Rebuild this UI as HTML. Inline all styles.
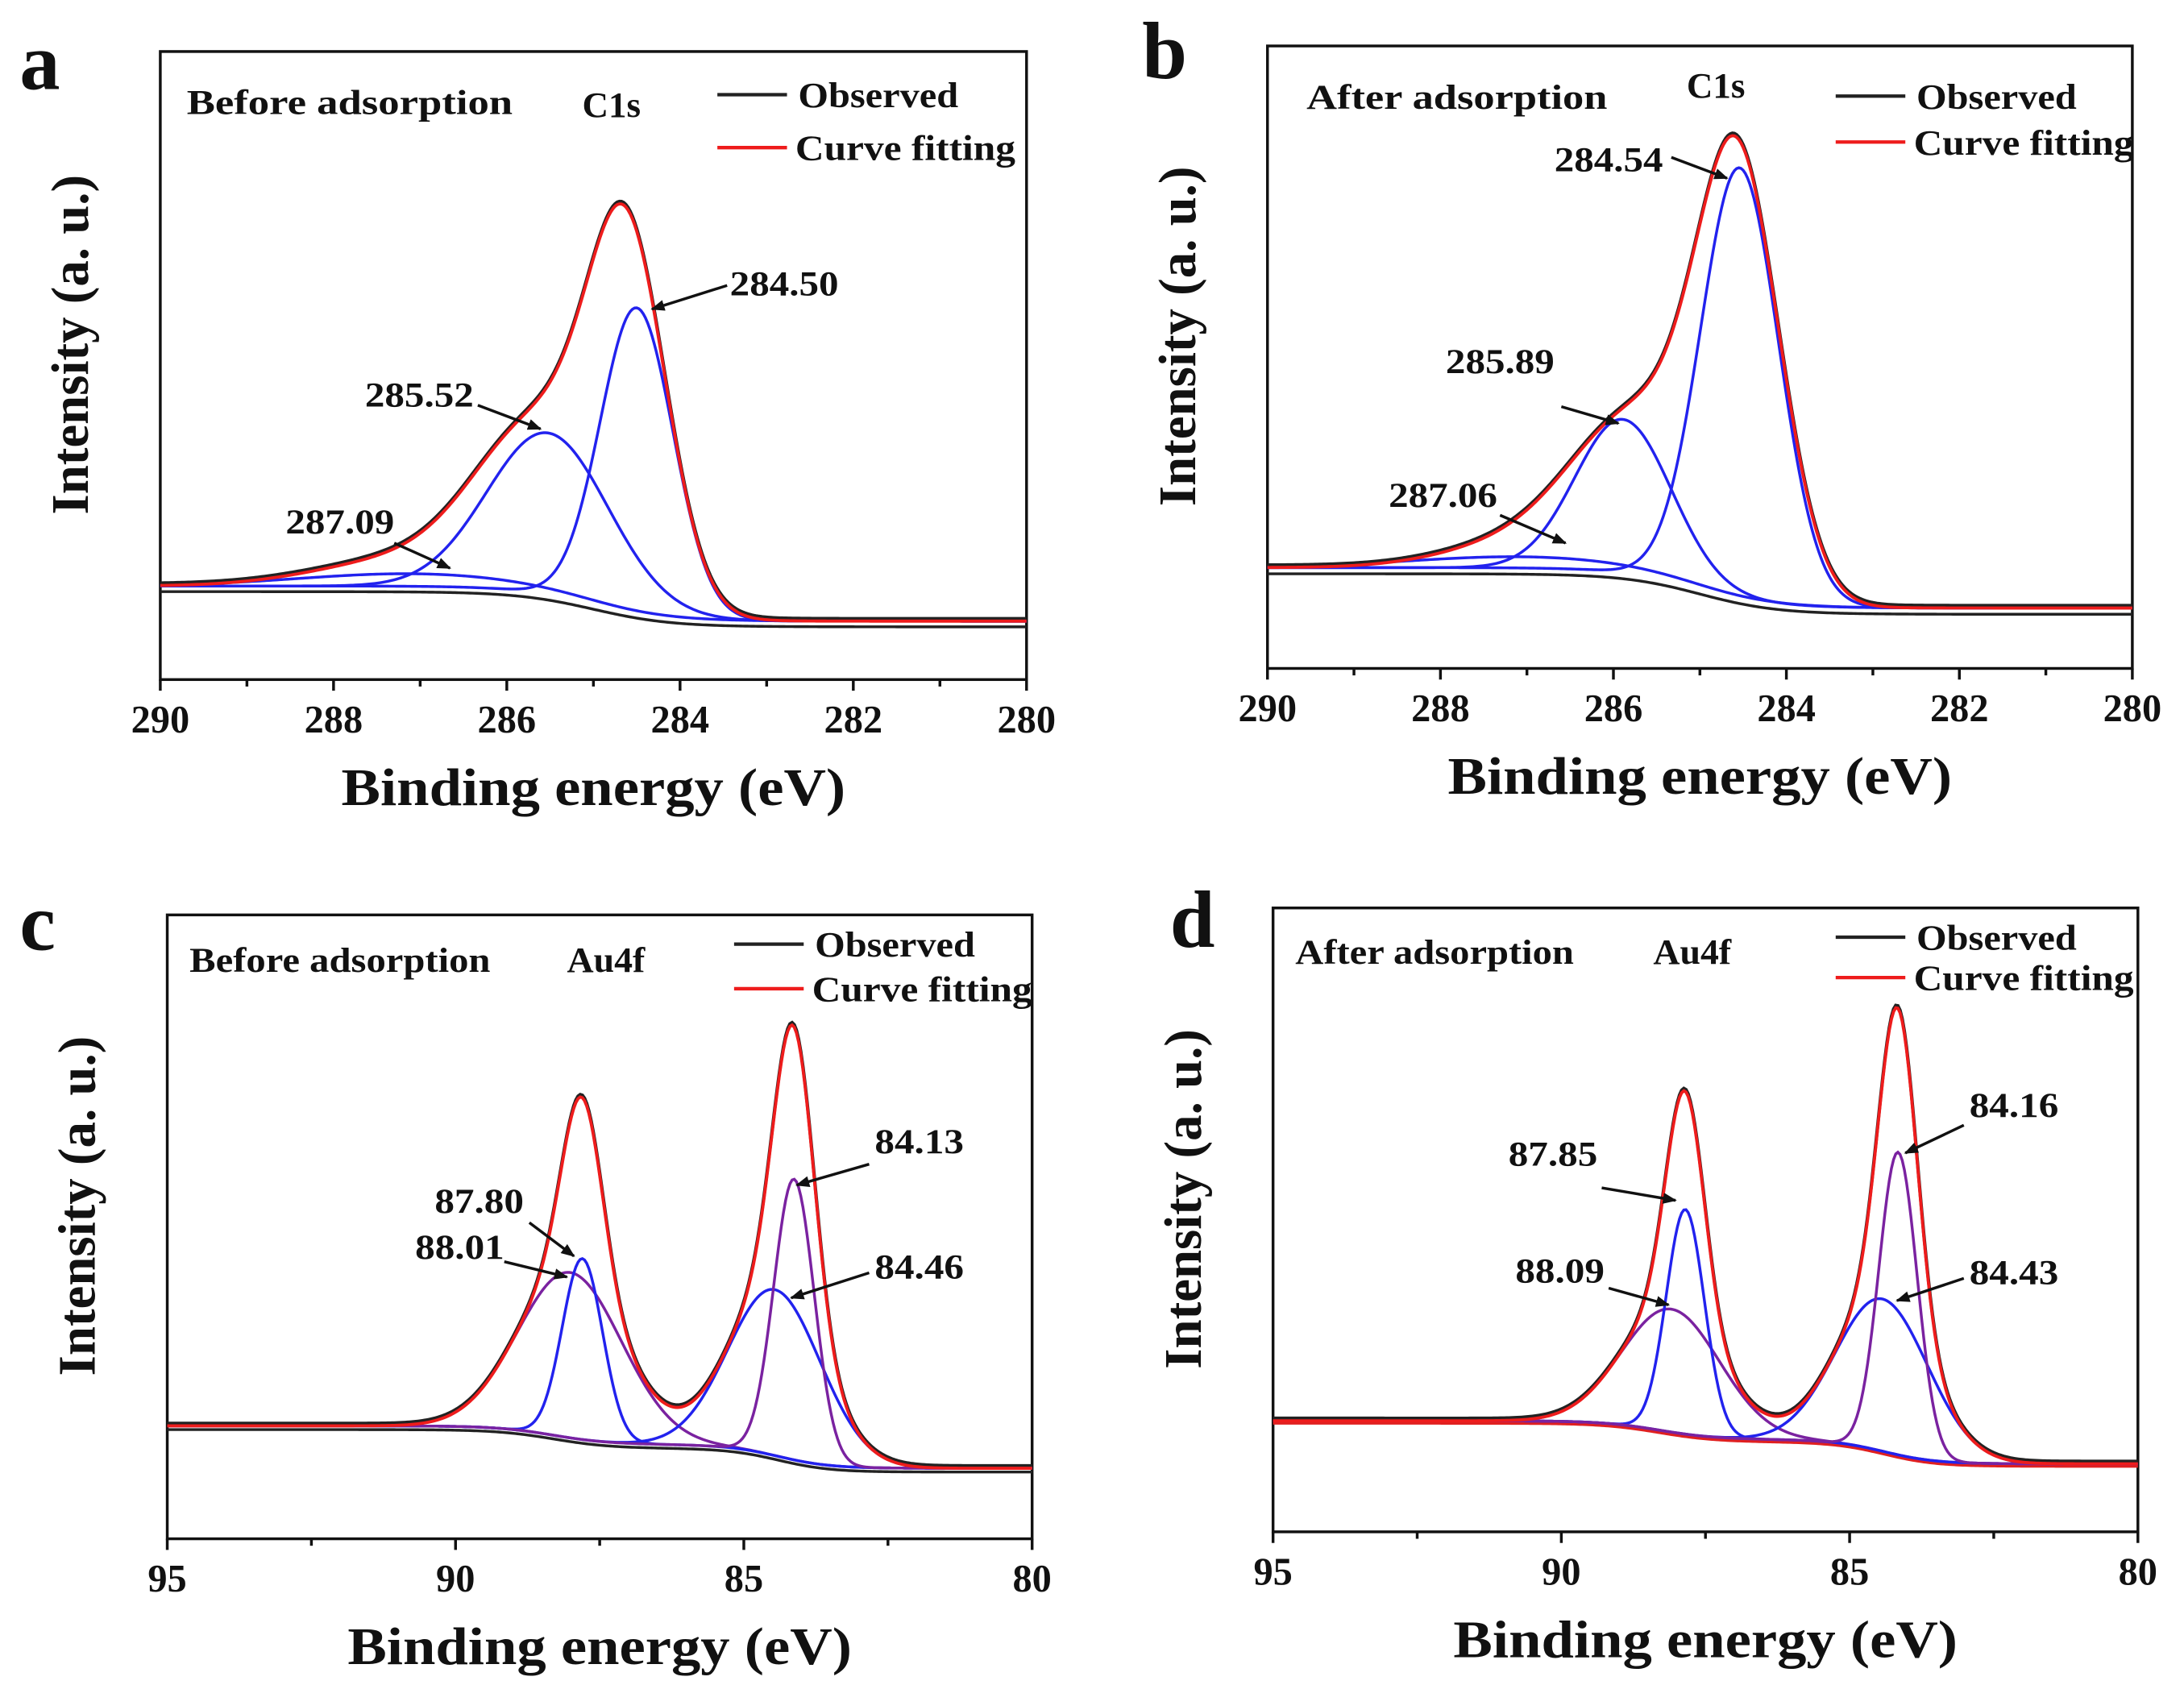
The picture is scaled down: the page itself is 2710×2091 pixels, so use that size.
<!DOCTYPE html>
<html><head><meta charset="utf-8"><title>XPS spectra</title>
<style>
html,body{margin:0;padding:0;background:#fff;}
svg{display:block;}
text{font-family:"Liberation Serif",serif;font-weight:bold;fill:#111;}
</style></head>
<body>
<svg id="fig" width="2710" height="2091" viewBox="0 0 1568 1210" xmlns="http://www.w3.org/2000/svg"></svg>
<script>
// ---- Panel data (y values in % of frame height) ----
const panelIds = ['a','b','c','d'];
const xRanges = [[290,280],[290,280],[95,80],[95,80]];
const xTicks = [[290,288,286,284,282,280],[290,288,286,284,282,280],[95,90,85,80],[95,90,85,80]];
const xMinorStep = [1,1,2.5,2.5];
const conditionLabels = ['Before adsorption','After adsorption','Before adsorption','After adsorption'];
const coreLabels = ['C1s','C1s','Au4f','Au4f'];
// background: right level, step centers, step drops, step widths
const bgRight = [8.4, 8.7, 10.7, 10.5];
const bgStepCenters = [[285.0],[285.0],[88.3,84.4],[88.3,84.4]];
const bgStepDrops = [[5.6],[6.5],[3.0,3.8],[3.0,3.9]];
const bgStepWidths = [[0.45],[0.45],[0.5,0.45],[0.5,0.45]];
const compOffset = [0.9, 1.0, 0.6, 0.4];
// fitted components
const compCenters = [[287.09,285.52,284.50],[287.06,285.89,284.54],[88.01,87.80,84.46,84.13],[88.09,87.85,84.43,84.16]];
const compHeights = [[2.0,25.7,48.5],[1.8,24.6,69],[26.5,29,26.6,45],[19.7,36,24.4,48.5]];
const compSigmas = [[1.3,0.7,0.42],[1.3,0.55,0.45],[0.9,0.35,0.8,0.35],[0.85,0.33,0.8,0.33]];
const compColors = [['#2222ee','#2222ee','#2222ee'],['#2222ee','#2222ee','#2222ee'],['#7a22a0','#2222ee','#2222ee','#7a22a0'],['#7a22a0','#2222ee','#2222ee','#7a22a0']];
// envelope (curve fitting)
const envCenters = [[287.2,285.6,284.6],[287.0,285.7,284.55],[88.01,87.80,84.46,84.13],[88.09,87.85,84.43,84.16]];
const envHeights = [[4,26,53],[4,24,66],[26.5,29,26.6,45],[19.7,36,24.4,48.5]];
const envSigmas = [[1.0,0.75,0.45],[0.9,0.75,0.48],[0.9,0.35,0.8,0.35],[0.85,0.33,0.8,0.33]];
const bgColors = ['#222','#222','#222','#e02020'];
// annotation labels
const annTexts = [['284.50','285.52','287.09'],['284.54','285.89','287.06'],['84.13','84.46','87.80','88.01'],['84.16','84.43','87.85','88.09']];

// ---- layout (viewBox coordinates) ----
const frames = [[115,37,737,488],[910,33,1531,480],[120,657,741,1105],[914,652,1535,1100]];
const letterPos = [[14,64],[820,56],[14,682],[840,680]];
const condPos = [[134,82],[938,78],[136,698],[930,692]];
const condWidths = [234,216,216,200];
const corePos = [[418,84],[1211,70],[407,698],[1187,692]];
const legendPos = [[515,68,106],[1318,69,102],[527,678,710],[1318,673,702]];
const annPos = [
 [[524,212,522,205,468,222],[262,292,343,291,388,308],[205,383,283,390,323,408]],
 [[1116,123,1200,113,1240,128],[1038,268,1121,292,1162,304],[997,364,1077,370,1124,390]],
 [[628,828,624,836,572,851],[628,918,624,914,568,932],[312,871,380,878,412,902],[298,904,362,906,407,917]],
 [[1414,802,1410,808,1368,828],[1414,922,1410,918,1362,934],[1083,837,1150,853,1203,862],[1088,921,1155,925,1198,937]]
];

const NS='http://www.w3.org/2000/svg';
const fig=document.getElementById('fig');
const defs=document.createElementNS(NS,'defs');
defs.innerHTML='<marker id="arr" markerWidth="10" markerHeight="8" refX="9" refY="4" orient="auto" markerUnits="userSpaceOnUse"><path d="M0,0 L10,4 L0,8 z" fill="#111"/></marker>';
fig.appendChild(defs);

function mk(tag,attrs,parent){const e=document.createElementNS(NS,tag);for(const k in attrs)e.setAttribute(k,attrs[k]);(parent||fig).appendChild(e);return e;}
function gauss(x,c,h,s){return h*Math.exp(-(x-c)*(x-c)/(2*s*s));}

panelIds.forEach((pid,p)=>{
  const g=mk('g',{});
  
  
  const [x0,y0,x1,y1]=frames[p];
  const [xa,xb]=xRanges[p];
  const X=v=>x0+(v-xa)/(xb-xa)*(x1-x0);
  const Y=v=>y1-v/100*(y1-y0);
  const bg=x=>{let v=bgRight[p];bgStepCenters[p].forEach((c,i)=>{v+=bgStepDrops[p][i]/(1+Math.exp(-(x-c)/bgStepWidths[p][i]));});return v;};
  const env=x=>{let v=0;envCenters[p].forEach((c,i)=>{v+=gauss(x,c,envHeights[p][i],envSigmas[p][i]);});return v;};
  const N=400;
  function path(fn){let d='';for(let i=0;i<=N;i++){const x=xa+(xb-xa)*i/N;d+=(i?'L':'M')+X(x).toFixed(2)+','+Y(fn(x)).toFixed(2);}return d;}

  const lt=mk('text',{x:letterPos[p][0],y:letterPos[p][1],'font-size':58},g);lt.textContent=pid;
  
  

  const fr=mk('rect',{x:x0,y:y0,width:x1-x0,height:y1-y0,fill:'none',stroke:'#111','stroke-width':2},g);
  
  

  const step=xMinorStep[p];
  for(let v=Math.min(xa,xb);v<=Math.max(xa,xb)+1e-6;v+=step){
    const major=xTicks[p].some(t=>Math.abs(t-v)<1e-6);
    const tk=mk('line',{x1:X(v),x2:X(v),y1:y1,y2:y1+(major?8:5),stroke:'#111','stroke-width':2},g);
    
    
  }
  xTicks[p].forEach(t=>{
    const tl=mk('text',{x:X(t),y:y1+38,'font-size':28,'text-anchor':'middle'},g);tl.textContent=t;
    
    
  });
  const xt=mk('text',{x:(x0+x1)/2,y:y1+90,'font-size':38,'text-anchor':'middle',textLength:362,lengthAdjust:'spacingAndGlyphs'},g);xt.textContent='Binding energy (eV)';
  
  
  const ycx=x0-52, ycy=(y0+y1)/2-15;
  const yt=mk('text',{x:ycx,y:ycy,'font-size':38,'text-anchor':'middle',textLength:244,lengthAdjust:'spacingAndGlyphs',transform:'rotate(-90 '+ycx+' '+ycy+')'},g);yt.textContent='Intensity (a. u.)';
  
  

  const bgl=mk('path',{d:path(bg),fill:'none',stroke:bgColors[p],'stroke-width':2},g);
  
  
  compCenters[p].forEach((c,i)=>{
    const cl=mk('path',{d:path(x=>bg(x)+compOffset[p]+gauss(x,c,compHeights[p][i],compSigmas[p][i])),fill:'none',stroke:compColors[p][i],'stroke-width':2},g);
    
    
  });
  const ob=mk('path',{d:path(x=>bg(x)+compOffset[p]+env(x)+0.4),fill:'none',stroke:'#222','stroke-width':2.4},g);
  
  
  const ft=mk('path',{d:path(x=>bg(x)+compOffset[p]+env(x)),fill:'none',stroke:'#ee1c1c','stroke-width':2.2},g);
  
  

  const ct=mk('text',{x:condPos[p][0],y:condPos[p][1],'font-size':25,textLength:condWidths[p],lengthAdjust:'spacingAndGlyphs'},g);ct.textContent=conditionLabels[p];
  
  
  const co=mk('text',{x:corePos[p][0],y:corePos[p][1],'font-size':26,textLength:(coreLabels[p].length*14),lengthAdjust:'spacingAndGlyphs'},g);co.textContent=coreLabels[p];
  
  
  const [lx,ly1,ly2]=legendPos[p];
  const lg=mk('g',{},g);
  
  
  const l1=mk('line',{x1:lx,x2:lx+50,y1:ly1,y2:ly1,stroke:'#222','stroke-width':2.5},lg);
  
  
  const t1=mk('text',{x:lx+58,y:ly1+9,'font-size':26,textLength:115,lengthAdjust:'spacingAndGlyphs'},lg);t1.textContent='Observed';
  
  
  const l2=mk('line',{x1:lx,x2:lx+50,y1:ly2,y2:ly2,stroke:'#ee1c1c','stroke-width':2.5},lg);
  
  
  const t2=mk('text',{x:lx+56,y:ly2+9,'font-size':26,textLength:158,lengthAdjust:'spacingAndGlyphs'},lg);t2.textContent='Curve fitting';
  
  
  annTexts[p].forEach((s,i)=>{
    const a=annPos[p][i];
    const at=mk('text',{x:a[0],y:a[1],'font-size':25,textLength:(s.length===6?78:64),lengthAdjust:'spacingAndGlyphs'},g);at.textContent=s;
    
    
    const al=mk('line',{x1:a[2],y1:a[3],x2:a[4],y2:a[5],stroke:'#111','stroke-width':2,'marker-end':'url(#arr)'},g);
    
    
  });
});
</script>
</body></html>
